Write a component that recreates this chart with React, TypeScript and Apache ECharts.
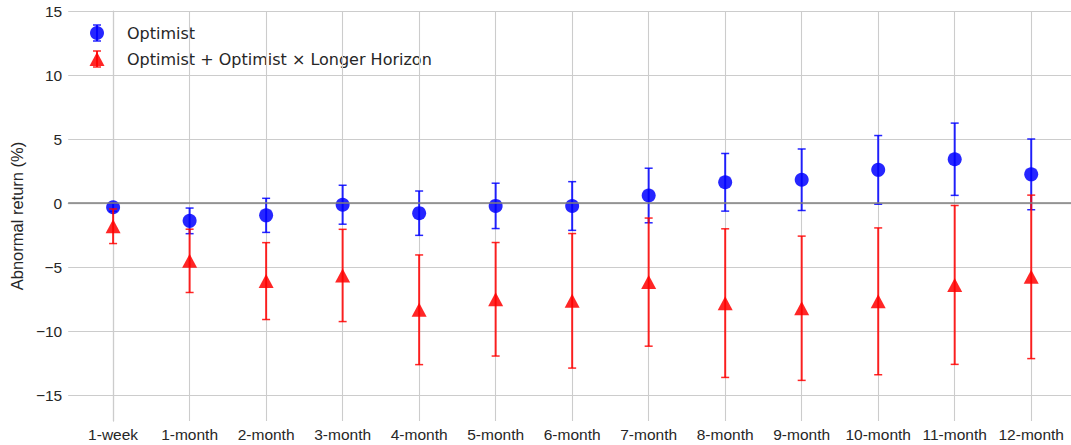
import React, { useEffect, useRef } from "react";
import * as echarts from "echarts";

const categories = [
  "1-week", "1-month", "2-month", "3-month", "4-month", "5-month", "6-month",
  "7-month", "8-month", "9-month", "10-month", "11-month", "12-month",
];
const optimistMean = [-0.32, -1.38, -0.95, -0.12, -0.78, -0.21, -0.22, 0.6, 1.63, 1.83, 2.6, 3.43, 2.25];
const optimistErr = [0.32, 1.0, 1.33, 1.52, 1.73, 1.77, 1.9, 2.13, 2.25, 2.4, 2.68, 2.82, 2.76];
const combinedMean = [-1.8, -4.5, -6.08, -5.64, -8.32, -7.5, -7.62, -6.16, -7.8, -8.2, -7.66, -6.38, -5.75];
const combinedErr = [1.35, 2.47, 3.0, 3.6, 4.28, 4.43, 5.25, 5.0, 5.8, 5.63, 5.73, 6.2, 6.38];
const yTicks = [-15, -10, -5, 0, 5, 10, 15];
const xTicks = categories.map((_, i) => i);
const legendNames = ["Optimist", "Optimist + Optimist × Longer Horizon"];

const BLUE = "rgba(0,0,255,0.85)";
const RED = "rgba(255,0,0,0.85)";

function errorBarSeries(name: string, mean: number[], err: number[], color: string, z: number) {
  return {
    name,
    type: "custom",
    z,
    silent: true,
    encode: { x: 0, y: 1 },
    data: mean.map((m, i) => [i, m, err[i]]),
    renderItem: (params: any, api: any) => {
      const x = api.value(0);
      const y = api.value(1);
      const e = api.value(2);
      const top = api.coord([x, y + e]);
      const bot = api.coord([x, y - e]);
      const cap = 4;
      return {
        type: "group",
        children: [
          { type: "line", shape: { x1: top[0], y1: top[1], x2: bot[0], y2: bot[1] }, style: { stroke: color, lineWidth: 2 } },
          { type: "line", shape: { x1: top[0] - cap, y1: top[1], x2: top[0] + cap, y2: top[1] }, style: { stroke: color, lineWidth: 1.5 } },
          { type: "line", shape: { x1: bot[0] - cap, y1: bot[1], x2: bot[0] + cap, y2: bot[1] }, style: { stroke: color, lineWidth: 1.5 } },
        ],
      };
    },
  };
}

function legendItem(cx: number, cy: number, color: string, kind: "circle" | "triangle", label: string) {
  const marker =
    kind === "circle"
      ? { type: "circle", shape: { cx, cy, r: 7 }, style: { fill: color } }
      : { type: "polygon", shape: { points: [[cx, cy - 7], [cx - 7.5, cy + 7], [cx + 7.5, cy + 7]] }, style: { fill: color } };
  return {
    type: "group",
    children: [
      { type: "line", shape: { x1: cx, y1: cy - 8, x2: cx, y2: cy + 8 }, style: { stroke: color, lineWidth: 2 } },
      { type: "line", shape: { x1: cx - 4, y1: cy - 8, x2: cx + 4, y2: cy - 8 }, style: { stroke: color, lineWidth: 1.5 } },
      { type: "line", shape: { x1: cx - 4, y1: cy + 8, x2: cx + 4, y2: cy + 8 }, style: { stroke: color, lineWidth: 1.5 } },
      marker,
      {
        type: "text",
        x: cx + 30,
        y: cy,
        style: {
          text: label,
          fontFamily: "DejaVu Sans",
          fontSize: 16,
          fill: "#262626",
          verticalAlign: "middle",
          align: "left",
        },
      },
    ],
  };
}

export default function App() {
  const ref = useRef<HTMLDivElement>(null);
  useEffect(() => {
    if (!ref.current) return;
    const chart = echarts.init(ref.current, undefined, { renderer: "svg" });
    chart.setOption({
      animation: false,
      backgroundColor: "#ffffff",
      grid: { left: 66, right: 0, top: 11, bottom: 24, containLabel: false },
      graphic: [
        legendItem(97, 33, BLUE, "circle", legendNames[0]),
        legendItem(97, 59, RED, "triangle", legendNames[1]),
      ],
      xAxis: {
        type: "value",
        min: -0.587,
        max: 12.52,
        axisLine: { show: true, lineStyle: { color: "#cccccc", width: 1.25 } },
        axisTick: { show: false, customValues: xTicks },
        splitLine: { show: true, lineStyle: { color: "#cccccc", width: 1.1 } },
        axisLabel: {
          customValues: xTicks,
          formatter: (v: number) => categories[Math.round(v)] ?? "",
          fontFamily: "Liberation Sans",
          fontSize: 15.5,
          color: "#262626",
          margin: 5,
        },
      },
      yAxis: {
        type: "value",
        min: -17,
        max: 15,
        name: "Abnormal return (%)",
        nameLocation: "middle",
        nameGap: 40,
        nameTextStyle: { fontFamily: "Liberation Sans", fontSize: 16.5, color: "#262626" },
        axisLine: { show: true, lineStyle: { color: "#cccccc", width: 1.25 } },
        axisTick: { show: false, customValues: yTicks },
        splitLine: { show: true, lineStyle: { color: "#cccccc", width: 1.1 } },
        axisLabel: {
          customValues: yTicks,
          formatter: (v: number) => String(v).replace("-", "\u2212"),
          fontFamily: "Liberation Sans",
          fontSize: 15.5,
          color: "#262626",
          margin: 6,
        },
      },
      series: [
        {
          ...errorBarSeries("optErr", optimistMean, optimistErr, BLUE, 2),
          markLine: {
            silent: true,
            symbol: "none",
            label: { show: false },
            lineStyle: { color: "#808080", width: 1.5, type: "solid" },
            data: [{ yAxis: 0 }],
          },
        },
        {
          name: legendNames[0],
          type: "scatter",
          z: 3,
          symbol: "circle",
          symbolSize: 14,
          itemStyle: { color: BLUE, opacity: 1 },
          data: optimistMean.map((m, i) => [i, m]),
        },
        errorBarSeries("combErr", combinedMean, combinedErr, RED, 4),
        {
          name: legendNames[1],
          type: "scatter",
          z: 5,
          symbol: "triangle",
          symbolSize: [15, 14],
          itemStyle: { color: RED, opacity: 1 },
          data: combinedMean.map((m, i) => [i, m]),
        },
      ],
    });
    return () => chart.dispose();
  }, []);
  return <div ref={ref} style={{ width: 1071, height: 445, position: "absolute", left: 0, top: 0 }} />;
}
